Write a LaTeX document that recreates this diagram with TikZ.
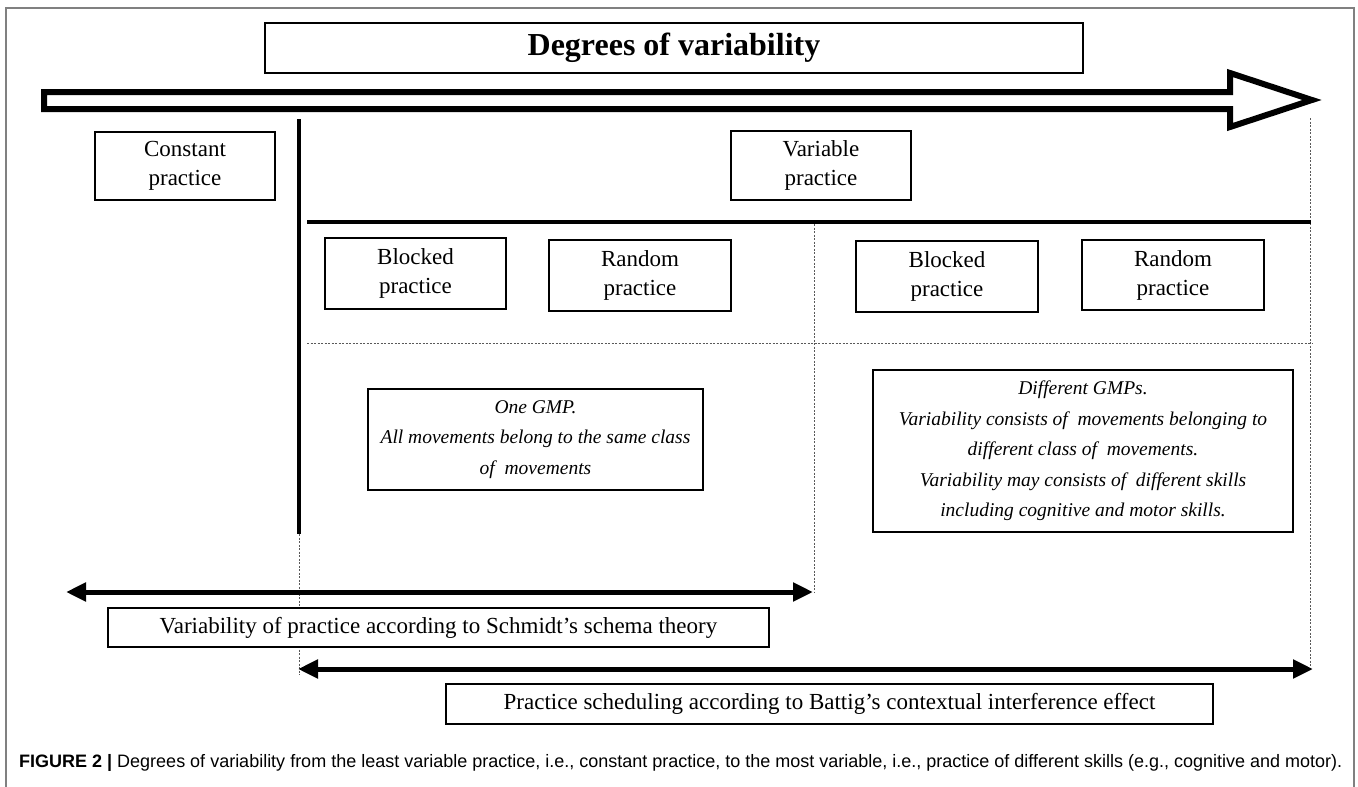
\documentclass[tikz,border=0pt]{standalone}
\usepackage{fontspec}
\usepackage{graphicx}
\setmainfont{Liberation Serif}
\newfontfamily\capfont{Liberation Sans}
\usetikzlibrary{arrows.meta}
\begin{document}
\begin{tikzpicture}[x=1pt,y=-1pt,
  box/.style={draw=black, fill=white, line width=1.6pt, inner sep=0pt, align=center,
    font=\fontsize{23}{29}\selectfont},
  ibox/.style={box, font=\fontsize{19.5}{30.5}\selectfont\itshape},
  rulebar/.style={line width=4pt},
  dotline/.style={draw=black!65, line width=0.8pt, dash pattern=on 2pt off 1.5pt},
  spanarrow/.style={line width=5pt, {Triangle[length=20pt,width=18pt]}-{Triangle[length=20pt,width=18pt]}}]
\useasboundingbox (0,0) rectangle (1358,787);
% frame
\draw[black!50, line width=1.2pt] (6,787) -- (6,8) -- (1354,8) -- (1354,787);
% coordinates
\coordinate (vtop) at (299,119);
\coordinate (vbot) at (299,534);
\coordinate (vdot) at (299,675);
\coordinate (hl) at (307,222);
\coordinate (hr) at (1311,222);
\coordinate (mtop) at (814,224);
\coordinate (mbot) at (814,592);
\coordinate (rtop) at (1310,118);
\coordinate (rbot) at (1310,668);
\coordinate (dl) at (307,343);
\coordinate (dr) at (1312,343);
\coordinate (s1) at (66,592);
\coordinate (s2) at (813,592);
\coordinate (b1) at (298,669);
\coordinate (b2) at (1313,669);
% dotted guides (behind the boxes)
\draw[dotline] (vbot) -- (vdot);
\draw[dotline] (mtop) -- (mbot);
\draw[dotline] (rtop) -- (rbot);
\draw[dotline] (dl) -- (dr);
% title
\node[box, minimum width=818pt, minimum height=50pt, font=\bfseries\fontsize{32}{36}\selectfont] (title) at (674,48) {Degrees of variability};
% big hollow arrow
\draw[line width=6pt, line join=miter, fill=white] (44,92) -- (1230,92) -- (1230,73) -- (1312,100) -- (1230,127) -- (1230,109) -- (44,109) -- cycle;
% boxes
\node[box, minimum width=180pt, minimum height=68pt] (const) at (185,166) {Constant\\practice};
\node[box, minimum width=180pt, minimum height=69pt] (var) at (821,165.5) {Variable\\practice};
\node[box, minimum width=181pt, minimum height=71pt] (bl1) at (415.5,273.5) {Blocked\\practice};
\node[box, minimum width=182pt, minimum height=71pt] (ra1) at (640,275.5) {Random\\practice};
\node[box, minimum width=182pt, minimum height=71pt] (bl2) at (947,276.5) {Blocked\\practice};
\node[box, minimum width=182pt, minimum height=70pt] (ra2) at (1173,275) {Random\\practice};
\node[ibox, minimum width=335pt, minimum height=101pt] (gmp1) at (535.5,439.5) {One GMP.\\All movements belong to the same class\\of\ \ movements};
\node[ibox, minimum width=420pt, minimum height=162pt] (gmp2) at (1083,451) {Different GMPs.\\Variability consists of\ \ movements belonging to\\different class of\ \ movements.\\Variability may consists of\ \ different skills\\including cognitive and motor skills.};
\node[box, minimum width=661pt, minimum height=39pt] (schmidt) at (438.5,627.5) {Variability of practice according to Schmidt’s schema theory};
\node[box, minimum width=767pt, minimum height=40pt] (battig) at (829.5,704) {Practice scheduling according to Battig’s contextual interference effect};
% solid lines and arrows
\draw[rulebar] (vtop) -- (vbot);
\draw[rulebar] (hl) -- (hr);
\draw[spanarrow] (s1) -- (s2);
\draw[spanarrow] (b1) -- (b2);
% caption
\node[anchor=west, inner sep=0pt] (cap) at (19,763) {\resizebox{1323pt}{!}{\capfont\fontsize{15.5}{18}\selectfont\textbf{FIGURE 2 |} Degrees of variability from the least variable practice, i.e., constant practice, to the most variable, i.e., practice of different skills (e.g., cognitive and motor).}};
\end{tikzpicture}
\end{document}
